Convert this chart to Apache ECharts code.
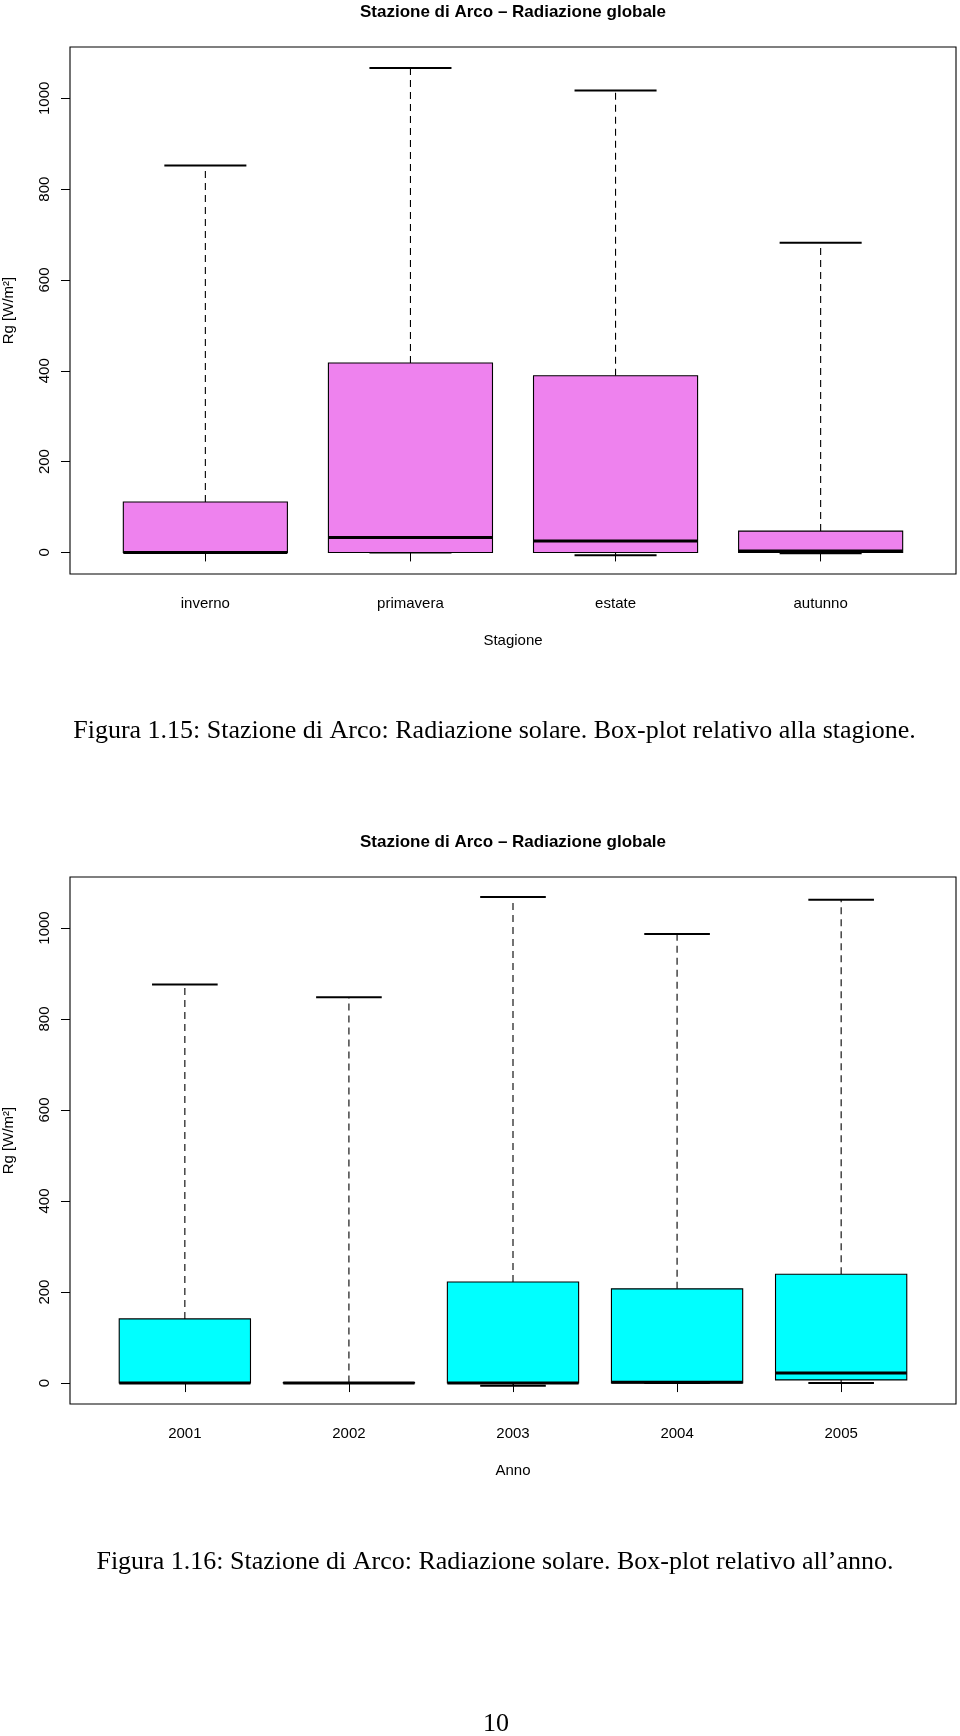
<!DOCTYPE html>
<html><head><meta charset="utf-8">
<script src="https://cdn.jsdelivr.net/npm/echarts@6/dist/echarts.min.js"></script>
<style>html,body{margin:0;padding:0;background:#fff}#c{width:960px;height:1736px}</style>
</head><body><div id="c"></div>
<script>
// ---- Data: seasonal box-plot (Figura 1.15) ----
const seasons = ['inverno', 'primavera', 'estate', 'autunno'];
const seasonLow  = [0, 0, -6, -2];
const seasonQ1   = [0, 0, 0, 0];
const seasonMed  = [0, 33, 25, 3];
const seasonQ3   = [111, 417, 389, 47];
const seasonHigh = [852, 1067, 1017, 682];

// ---- Data: yearly box-plot (Figura 1.16) ----
const years = ['2001', '2002', '2003', '2004', '2005'];
const yearLow  = [0, 0, -6, 0, 0];
const yearQ1   = [0, 0, 0, 0, 7];
const yearMed  = [0, 0, 0, 2, 22];
const yearQ3   = [141, 1, 222, 207, 239];
const yearHigh = [876, 848, 1068, 987, 1062];

const yTicks = [0, 200, 400, 600, 800, 1000];

const SANS = 'Liberation Sans, Arial, Helvetica, sans-serif';
const SERIF = 'Liberation Serif, Times New Roman, serif';

function boxRender(color) {
  return function (params, api) {
    const x = api.value(0);
    const lo = api.coord([x, api.value(1)]);
    const q1 = api.coord([x, api.value(2)]);
    const md = api.coord([x, api.value(3)]);
    const q3 = api.coord([x, api.value(4)]);
    const hi = api.coord([x, api.value(5)]);
    const bw = api.size([0.8, 0])[0];
    const cw = bw / 2;
    const cx = lo[0];
    const dash = [7, 5];
    return {
      type: 'group',
      children: [
        { type: 'line', shape: { x1: cx, y1: q3[1], x2: cx, y2: hi[1] },
          style: { stroke: '#000', lineWidth: 1.1, lineDash: dash } },
        { type: 'line', shape: { x1: cx, y1: q1[1], x2: cx, y2: lo[1] },
          style: { stroke: '#000', lineWidth: 1.1, lineDash: dash } },
        { type: 'line', shape: { x1: cx - cw / 2, y1: hi[1], x2: cx + cw / 2, y2: hi[1] },
          style: { stroke: '#000', lineWidth: 2 } },
        { type: 'line', shape: { x1: cx - cw / 2, y1: lo[1], x2: cx + cw / 2, y2: lo[1] },
          style: { stroke: '#000', lineWidth: 2 } },
        { type: 'rect', shape: { x: cx - bw / 2, y: q3[1], width: bw, height: q1[1] - q3[1] },
          style: { fill: color, stroke: '#000', lineWidth: 1.1 } },
        { type: 'line', shape: { x1: cx - bw / 2, y1: md[1], x2: cx + bw / 2, y2: md[1] },
          style: { stroke: '#000', lineWidth: 3 } }
      ]
    };
  };
}

function xAxisCfg(grid, cats, min, max, name) {
  const vals = cats.map((c, i) => i + 1);
  return {
    type: 'value', gridIndex: grid, min: min, max: max,
    axisLine: { show: false }, splitLine: { show: false },
    axisTick: { show: true, length: 9, customValues: vals, lineStyle: { color: '#000', width: 1 } },
    axisLabel: { show: true, customValues: vals, formatter: v => cats[Math.round(v) - 1],
      margin: 22, color: '#000', fontSize: 15, fontFamily: SANS },
    name: name, nameLocation: 'middle', nameGap: 59,
    nameTextStyle: { color: '#000', fontSize: 15, fontFamily: SANS }
  };
}

function yAxisCfg(grid, min, max) {
  return {
    type: 'value', gridIndex: grid, min: min, max: max,
    axisLine: { show: false }, splitLine: { show: false },
    axisTick: { show: true, length: 9, customValues: yTicks, lineStyle: { color: '#000', width: 1 } },
    axisLabel: { show: true, customValues: yTicks, rotate: 90, margin: 18,
      formatter: v => String(v), color: '#000', fontSize: 15, fontFamily: SANS },
    name: 'Rg [W/m²]', nameLocation: 'middle', nameGap: 54, nameRotate: 90,
    nameTextStyle: { color: '#000', fontSize: 15, fontFamily: SANS }
  };
}

const chart = echarts.init(document.getElementById('c'));
chart.setOption({
  animation: false,
  backgroundColor: '#fff',
  grid: [
    { left: 70, top: 47, width: 886, height: 527, show: true, borderColor: '#000', borderWidth: 1.1,
      containLabel: false, outerBoundsMode: 'none' },
    { left: 70, top: 877, width: 886, height: 527, show: true, borderColor: '#000', borderWidth: 1.1,
      containLabel: false, outerBoundsMode: 'none' }
  ],
  xAxis: [
    xAxisCfg(0, seasons, 0.34, 4.66, 'Stagione'),
    xAxisCfg(1, years, 0.3, 5.7, 'Anno')
  ],
  yAxis: [
    yAxisCfg(0, -47.5, 1113),
    yAxisCfg(1, -46, 1112)
  ],
  series: [
    { type: 'custom', xAxisIndex: 0, yAxisIndex: 0, renderItem: boxRender('#EE82EE'),
      encode: { x: 0, y: [1, 2, 3, 4, 5] },
      data: seasons.map((s, i) => [i + 1, seasonLow[i], seasonQ1[i], seasonMed[i], seasonQ3[i], seasonHigh[i]]) },
    { type: 'custom', xAxisIndex: 1, yAxisIndex: 1, renderItem: boxRender('#00FFFF'),
      encode: { x: 0, y: [1, 2, 3, 4, 5] },
      data: years.map((s, i) => [i + 1, yearLow[i], yearQ1[i], yearMed[i], yearQ3[i], yearHigh[i]]) }
  ],
  graphic: [
    { type: 'text', x: 513, y: 12, style: { text: 'Stazione di Arco – Radiazione globale', align: 'center', verticalAlign: 'middle',
      font: 'bold 17px ' + SANS, fill: '#000' } },
    { type: 'text', x: 494.5, y: 731, style: { text: 'Figura 1.15: Stazione di Arco: Radiazione solare. Box-plot relativo alla stagione.',
      align: 'center', verticalAlign: 'middle', font: '26px ' + SERIF, fill: '#000' } },
    { type: 'text', x: 513, y: 842, style: { text: 'Stazione di Arco – Radiazione globale', align: 'center', verticalAlign: 'middle',
      font: 'bold 17px ' + SANS, fill: '#000' } },
    { type: 'text', x: 495, y: 1562, style: { text: 'Figura 1.16: Stazione di Arco: Radiazione solare. Box-plot relativo all’anno.',
      align: 'center', verticalAlign: 'middle', font: '26px ' + SERIF, fill: '#000' } },
    { type: 'text', x: 496, y: 1724, style: { text: '10', align: 'center', verticalAlign: 'middle',
      font: '26px ' + SERIF, fill: '#000' } }
  ]
});
</script>
</body></html>
